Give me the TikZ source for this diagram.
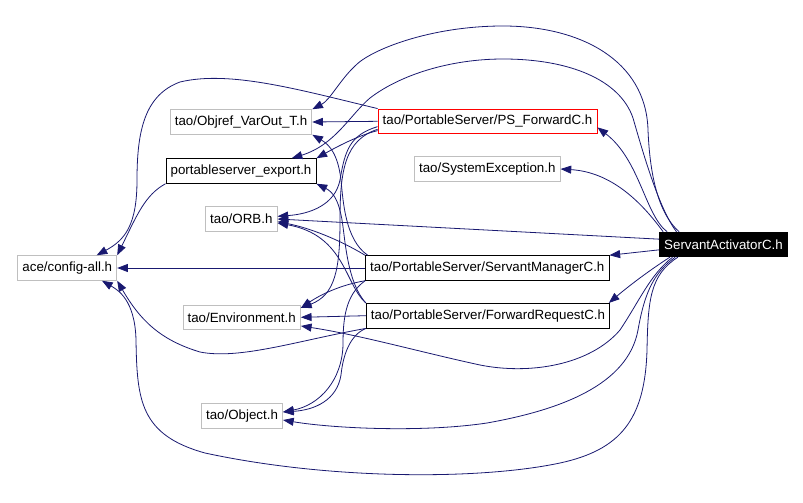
\documentclass[tikz,border=0pt]{standalone}
\usepackage{fontspec}
\setmainfont{Liberation Sans}
\usepackage{tikz}
\usetikzlibrary{arrows.meta}
\definecolor{edgeblue}{HTML}{191970}
\definecolor{extgray}{HTML}{BFBFBF}

\begin{document}
\begin{tikzpicture}[x=0.75pt,y=-0.75pt]
  \tikzset {
    box/.style={
      rectangle,
      draw=black,
      line width=0.6pt,
      minimum height=18.5pt,
      inner xsep=3.5pt,
      font=\fontsize{10pt}{12pt}\selectfont,
      text centered
    },
    extbox/.style={box, draw=extgray},
    redbox/.style={box, draw=red},
    rootbox/.style={box, fill=black, text=white},
    dep/.style={draw=edgeblue, line width=0.6pt, -{Triangle[length=8pt,width=6pt]}}
  }
  \useasboundingbox (0,0) rectangle (803,503);

  \node[rootbox](sa) at (723.5,244.5) {ServantActivatorC.h};
  \node[redbox](psf) at (487.5,121.3) {tao/PortableServer/PS\_ForwardC.h};
  \node[extbox](sysexc) at (487.3,169) {tao/SystemException.h};
  \node[box](sm) at (487.3,268) {tao/PortableServer/ServantManagerC.h};
  \node[box](fr) at (488,315.7) {tao/PortableServer/ForwardRequestC.h};
  \node[extbox](objref) at (241,122) {tao/Objref\_VarOut\_T.h};
  \node[box](export) at (241,171) {portableserver\_export.h};
  \node[extbox](orb) at (241.3,219) {tao/ORB.h};
  \node[extbox](config) at (67.3,268) {ace/config-all.h};
  \node[extbox](env) at (241.7,317.3) {tao/Environment.h};
  \node[extbox](obj) at (242,416) {tao/Object.h};

  % ServantActivatorC.h
  \draw[dep] ([xshift=6pt]sa.north west) .. controls (645,215) and (640,160) .. ([yshift=5pt]psf.south east);
  \draw[dep] ([xshift=3pt]sa.north west) .. controls (640,200) and (610,172) .. (sysexc.east);
  \draw[dep] ([yshift=4pt]sa.west) -- (orb.east);
  \draw[dep] ([yshift=-4pt]sa.west) -- (sm.north east);
  \draw[dep] ([xshift=8pt]sa.south west) .. controls (650,270) and (630,285) .. ([xshift=-1pt]fr.north east);
  \draw[dep] ([xshift=15pt]sa.north west) .. controls (660,215) and (650,180) .. (648,130)
    .. controls (646,60) and (580,26) .. (503,26) .. controls (430,26) and (370,50) .. (355,66)
    .. controls (340,80) and (330,100) .. (objref.north east);
  \draw[dep] ([xshift=13pt]sa.north west) .. controls (660,210) and (645,160) .. (633,118)
    .. controls (620,80) and (570,59) .. (503,59) .. controls (450,59) and (400,75) .. (370,98)
    .. controls (350,115) and (335,145) .. ([xshift=38pt]export.north);
  \draw[dep] ([xshift=14pt]sa.south west) .. controls (650,275) and (648,300) .. (647,350)
    .. controls (645,420) and (620,450) .. (560,463) .. controls (480,480) and (330,480) .. (205,453)
    .. controls (140,435) and (137,400) .. (136,340) .. controls (135,300) and (118,290) .. ([xshift=26pt]config.south);
  \draw[dep] ([xshift=12pt]sa.south west) .. controls (655,272) and (645,290) .. (638,330)
    .. controls (628,385) and (560,410) .. (487,423) .. controls (420,433) and (330,428) .. ([yshift=-3pt]obj.east);
  \draw[dep] ([xshift=10pt]sa.south west) .. controls (650,275) and (640,300) .. (620,330)
    .. controls (590,365) and (530,375) .. (480,365) .. controls (420,352) and (360,335) .. ([yshift=-6.5pt]env.east);

  % PS_ForwardC.h
  \draw[dep] (psf.west) -- (objref.east);
  \draw[dep] (psf.north west) .. controls (300,90) and (230,70) .. (180,82)
    .. controls (145,95) and (137,130) .. (137,180) .. controls (137,225) and (125,240) .. ([xshift=22pt]config.north);
  \draw[dep] ([yshift=-7pt]psf.west) .. controls (360,135) and (340,145) .. (export.north east);
  \draw[dep] ([yshift=-4pt]psf.west) .. controls (350,135) and (345,150) .. (340,180)
    .. controls (335,205) and (310,214) .. ([yshift=2pt]orb.east);
  \draw[dep] ([yshift=-6pt]psf.west) .. controls (345,140) and (340,170) .. (340,220)
    .. controls (340,270) and (335,295) .. ([yshift=7pt]env.east);

  % ServantManagerC.h
  \draw[dep] (sm.west) -- (config.east);
  \draw[dep] (sm.north west) .. controls (340,240) and (310,228) .. ([yshift=-2pt]orb.east);
  \draw[dep] ([xshift=2pt]sm.north west) .. controls (345,240) and (343,200) .. (341,180)
    .. controls (338,155) and (330,145) .. (objref.south east);
  \draw[dep] (sm.south west) .. controls (340,285) and (320,295) .. ([yshift=7pt]env.east);
  \draw[dep] (sm.south west) .. controls (345,295) and (343,320) .. (343,345)
    .. controls (342,380) and (320,405) .. ([yshift=3pt]obj.east);

  % ForwardRequestC.h
  \draw[dep] (fr.west) -- (env.east);
  \draw[dep] (fr.north west) .. controls (345,285) and (345,235) .. ([yshift=-3pt]orb.east);
  \draw[dep] (fr.north west) .. controls (345,280) and (345,230) .. (341,215)
    .. controls (338,200) and (333,192) .. (export.south east);
  \draw[dep] (fr.south west) .. controls (350,335) and (343,355) .. (341,375)
    .. controls (337,400) and (315,410) .. ([yshift=3pt]obj.east);
  \draw[dep] (fr.south west) .. controls (300,340) and (240,360) .. (200,352)
    .. controls (160,340) and (140,320) .. (config.south east);

  % portableserver_export.h
  \draw[dep] (export.south west) .. controls (145,195) and (137,215) .. (config.north east);

\end{tikzpicture}
\end{document}
